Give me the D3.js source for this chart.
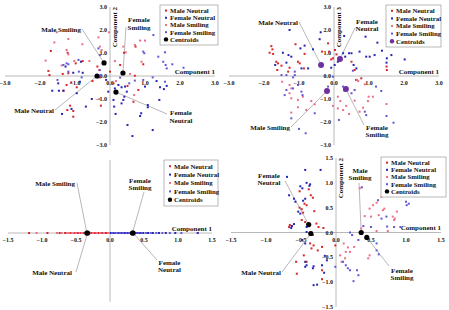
<!DOCTYPE html>
<html>
<head>
<meta charset="utf-8">
<script src="https://cdn.jsdelivr.net/npm/d3@7"></script>
<style>
  body { margin: 0; background: #fff; }
  svg { display: block; }
  text { font-family: "Liberation Serif", "Times New Roman", serif; font-weight: bold; fill: #111; }
</style>
</head>
<body>
<div id="chart"></div>
<script>

const seriesNames = ["Male Neutral", "Female Neutral", "Male Smiling", "Female Smiling"];
const ticksWide = [-3, -2, -1, 0, 1, 2, 3];
const ticksNarrow = [-1.5, -1, -0.5, 0, 0.5, 1, 1.5];

// panel 1 : component 1 vs component 2
const p1MaleNeutral = [[-1.69,1.09],[-1.21,1.01],[-1.76,0.22],[-1.73,0.04],[-0.98,0.55],[-0.78,0.65],[-0.36,0.41],[-1.35,0.09],[-1.19,0.12],[-1.11,-0.28],[-1.24,-0.39],[-1.33,-0.64],[-0.95,-0.49],[-1.05,-1.52],[-1.14,-1.29],[-1.05,-1.77],[-1.22,-1.48],[-0.26,-1.29],[-0.29,-0.06],[-0.5,-0.22],[0.4,1.01],[0.29,0.48],[0.73,1.28],[0.95,0.51],[0.71,0.01],[0.5,-0.43],[0.19,-0.75],[0,0.19],[0.67,-1.12],[0.81,-0.61],[0.1,-0.32]];
const p1FemaleNeutral = [[1.33,-0.22],[1.62,-0.43],[1.54,-0.57],[1.43,-0.49],[1.41,-1.04],[1.08,-1.26],[1.08,-1.36],[0.89,-1.62],[0.86,-1.74],[1.22,-2.35],[0.64,-2.61],[0.5,-2.13],[0.1,-1.04],[0.12,-1.33],[0.16,-1.65],[0.33,-1.19],[0.38,-1.04],[0.41,-0.9],[0.43,-0.46],[0.48,-0.68],[1.0,-0.46],[0.24,-0.39],[0.33,-0.49],[-0.11,-0.17],[-0.83,0.62],[-1.27,0.41],[-1.05,0.14],[-0.78,0.14],[-1.48,-0.32],[-1.65,-0.64],[-1.46,-0.64],[-1.33,-0.64],[-0.86,-0.25],[-0.95,-0.75],[-0.52,-1.0],[-0.69,-1.33],[-1.1,-1.43],[-1.37,-1.65],[-0.05,-0.68],[0.14,-0.54]];
const p1MaleSmiling = [[-1.52,1.9],[-1.59,1.46],[-1.19,1.61],[-1.24,1.13],[-1.19,0.94],[-1.02,0.65],[-0.79,1.38],[-0.59,0.65],[-0.33,1.68],[-0.03,1.9],[-0.29,1.28],[-0.24,1.13],[-0.31,0.26],[0.38,1.28],[0.45,1.03],[0.14,0.65],[0.71,1.35],[0.86,1.54],[1.0,1.54],[0.9,0.62],[0.57,0.09],[0.17,-0.22],[-1.84,0.67],[-0.3,-1.0],[0.69,-0.83],[-1.38,0.46]];
const p1FemaleSmiling = [[1.57,1.03],[1.24,1.78],[0.95,1.06],[0.98,0.99],[1.38,0.84],[1.52,0.62],[1.59,0.48],[1.78,0.51],[1.62,0.33],[2.1,0.36],[1.22,-0.06],[1.57,-0.25],[0.71,-0.2],[0.95,-0.17],[0.29,-0.07],[-0.29,0.26],[-0.26,0.04],[-0.33,1.2],[-0.29,0.91],[-0.9,0.7],[-1.24,0.55],[-1.19,0.51],[-1.19,0.19],[-0.89,0.19],[-1.5,-0.17],[-0.81,-0.06],[0.55,-0.32],[-1.33,0.48]];
const p1Centroids = [["Male Neutral",-0.37,0.0],["Female Neutral",0.17,-0.7],["Male Smiling",-0.17,0.57],["Female Smiling",0.37,0.13]];

// panel 2 : component 1 vs component 3
const p2MaleNeutral = [[-1.79,1.3],[-1.76,1.16],[-1.84,1.01],[-1.74,0.96],[-1.65,0.62],[-1.6,0.55],[-1.62,0.26],[-1.5,0.45],[-1.27,0.36],[-1.31,0.19],[-1.1,1.38],[-1.03,0.62],[-0.98,0.55],[-0.84,0.96],[-0.86,0.33],[-0.17,1.42],[-0.14,1.06],[-0.34,1.06],[-0.08,0.72],[-0.03,0.77],[0.03,1.13],[0.07,0.94],[0.5,0.62],[0.59,0.26],[1.5,0.41],[1.51,0.26],[0.63,-0.17],[0.78,-0.1]];
const p2FemaleNeutral = [[-1.27,2.0],[-0.38,1.9],[-0.41,1.6],[-0.6,1.16],[-0.84,1.32],[-0.96,1.2],[-1.46,1.01],[-1.3,0.91],[-1.22,0.84],[-1.36,0.58],[-1.68,0.48],[-0.93,0.33],[-0.74,0.33],[-0.08,0.36],[0.02,0.48],[0.11,0.62],[0.26,0.99],[0.32,0.84],[0.43,0.99],[0.5,0.99],[0.56,0.48],[0.64,0.33],[0.29,1.74],[0.9,1.71],[1.24,1.45],[0.92,0.84],[1.02,0.84],[0.73,1.06],[1.16,0.91],[1.37,1.1],[1.51,0.77],[1.5,0.58],[1.64,0.91],[2.02,0.72]];
const p2MaleSmiling = [[-1.48,-0.25],[-1.27,-0.39],[-1.22,-0.54],[-1.27,-0.75],[-1.22,-0.97],[-1.03,-1.04],[-1.22,-1.59],[-1.03,-1.36],[-0.79,-1.48],[-0.65,-1.09],[-0.55,-1.23],[-0.89,-0.9],[-0.03,-1.3],[0.11,-0.9],[0.18,-1.09],[0.11,-1.41],[0.26,-1.48],[0.35,-1.3],[0.43,-1.65],[0.59,-1.07],[0.66,-0.17],[0.69,-0.22],[0.88,-0.36],[0.99,-0.9],[0.97,-1.09],[1.11,-0.9],[0.73,-1.55],[0.83,-1.38],[1.5,-1.22]];
const p2FemaleSmiling = [[-1.5,0.04],[-1.36,0.04],[-1.12,0.19],[-1.12,0.04],[-1.17,-0.06],[-1.36,-0.61],[-1.41,-0.83],[-1.17,-0.54],[-1.03,-0.39],[-0.93,-0.68],[-0.9,-0.83],[-1.22,-1.84],[-1.0,-2.3],[-0.81,-2.49],[-0.55,-1.62],[0.54,0.23],[1.2,-0.46],[1.35,-0.65],[1.5,-1.74],[1.7,-2.03],[0.92,-1.7],[0.88,-1.55],[0.14,-1.91],[0.26,-0.46],[0.3,-0.64],[0.59,-0.61],[0.5,-0.75],[-0.03,-0.03],[-0.17,-0.46],[-0.22,-0.61]];
const p2Centroids = [["Male Neutral",-0.37,0.48],["Female Neutral",0.17,0.74],["Male Smiling",-0.2,-0.65],["Female Smiling",0.34,-0.57]];

// panel 3 : component 1 only
const p3MaleNeutral = [-1.19,-0.92,-0.74,-0.66,-0.58,-0.52,-0.47,-0.44,-0.39,-0.36,-0.31,-0.28,-0.22,-0.17,-0.12,-0.06];
const p3FemaleNeutral = [0.01,0.05,0.08,0.13,0.17,0.22,0.26,0.29,0.34,0.4,0.44,0.49,0.56,0.63,0.72,0.82,0.96,1.29];
const p3MaleSmiling = [-1.08,-0.78,-0.71,-0.63,-0.6,-0.54,-0.5,-0.45,-0.41,-0.37,-0.34,-0.3,-0.25,-0.2,-0.14,-0.09,-0.03];
const p3FemaleSmiling = [0.03,0.07,0.11,0.15,0.19,0.24,0.28,0.32,0.37,0.42,0.47,0.53,0.6,0.68,0.77,0.88,1.05];
const p3Centroids = [["Male Neutral",-0.33],["Male Smiling",-0.34],["Female Neutral",0.34],["Female Smiling",0.33]];

// panel 4 : component 1 vs component 2 (rescaled)
const p4MaleNeutral = [[-0.52,0.83],[-0.39,0.87],[-0.36,0.75],[-0.33,0.7],[-0.45,0.58],[-0.42,0.55],[-0.52,0.5],[-0.49,0.47],[-0.47,0.4],[-0.31,0.43],[-0.66,0.15],[-0.67,0.11],[-0.63,0.13],[-0.49,0.25],[-0.44,0.21],[-0.28,0.18],[-0.25,0.11],[-0.18,0.09],[-0.35,0],[-0.33,-0.05],[-0.37,-0.22],[-0.32,-0.26],[-0.35,-0.32],[-0.26,-0.36],[-0.2,-0.29],[-0.46,-0.46],[-0.42,-0.59],[-0.56,-0.83],[-0.57,-0.59],[-0.2,-0.76],[-0.2,-0.94],[-0.01,-0.26]];
const p4FemaleNeutral = [[-0.7,1.12],[-0.44,1.26],[-0.22,1.26],[-0.42,1.0],[-0.38,0.94],[-0.37,0.97],[-0.51,0.93],[-0.48,0.89],[-0.67,0.75],[-0.6,0.68],[-0.58,0.62],[-0.44,0.68],[-0.47,0.64],[-0.54,0.42],[-0.51,0.38],[-0.63,0.13],[-0.64,0.09],[-0.6,0.17],[-0.42,0.11],[-0.42,0.01],[-0.48,-0.15],[-0.44,-0.22],[-0.44,-0.59],[-0.32,-0.68],[-0.33,-0.72],[-0.42,-0.66],[-0.44,-0.69],[-0.2,-0.66],[-0.17,-0.81],[-0.32,-1.06],[-0.27,-1.05],[-0.16,-0.47],[-0.13,-0.56]];
const p4MaleSmiling = [[0.11,-0.22],[0.17,-0.3],[0.14,-0.39],[0.2,-0.39],[0.26,-0.29],[0.13,-0.52],[0.08,-0.59],[0.06,-0.46],[0.34,0.89],[0.48,0.48],[0.53,0.55],[0.58,0.6],[0.41,0.33],[0.5,0.32],[0.61,0.35],[0.65,0.72],[0.69,0.48],[0.67,0.45],[0.81,0.32],[0.84,0.28],[0.87,0.42],[0.83,0.25],[0.74,0.03],[0.58,0.03],[0.36,0.08],[0.48,-0.46],[0.46,-0.52]];
const p4FemaleSmiling = [[-0.01,-0.69],[0.1,-0.59],[0.14,-0.66],[0.17,-0.72],[0.2,-0.76],[0.25,-0.98],[0.3,-0.76],[0.32,-0.86],[0.23,-0.05],[0.2,0],[0.32,-0.15],[0.37,0.91],[0.58,-0.36],[0.61,-0.44],[0.58,-0.22],[0.6,0.65],[0.65,0.28],[0.72,0.32],[0.5,0.11],[0.39,0.13],[1.0,0.62],[1.01,0.55],[1.04,0.58],[0.92,0.11],[0.83,0.11],[0.73,0.12]];
const p4Centroids = [["Female Neutral",-0.39,0.16],["Male Neutral",-0.36,-0.02],["Male Smiling",0.36,0.0],["Female Smiling",0.44,-0.1]];

const colors = {
    "Male Neutral": "#d8262a",
    "Female Neutral": "#2626b4",
    "Male Smiling": "#ec6f86",
    "Female Smiling": "#6258d6"
};
const fmt = d3.format(".1f");

const svg = d3.select("#chart").append("svg").attr("width", 449).attr("height", 310);

const drawPanel = (p) => {
    const g = svg.append("g");
    const x = d3.scaleLinear().domain(p.xDomain).range(p.xRange);
    const y = p.yDomain ? d3.scaleLinear().domain(p.yDomain).range(p.yRange) : null;
    const x0 = x(0);
    const y0 = y ? y(0) : p.axisY;
    const top = Math.min(...p.yRange);

    // axis lines
    g.append("line").attr("x1", p.xRange[0]).attr("x2", p.xRange[1]).attr("y1", y0).attr("y2", y0)
        .attr("stroke", "#a8a8a8").attr("stroke-width", 0.8);
    g.append("line").attr("x1", x0).attr("x2", x0).attr("y1", p.yRange[0]).attr("y2", p.yRange[1])
        .attr("stroke", "#a8a8a8").attr("stroke-width", 0.8);

    g.selectAll(".xt").data(p.ticks).join("text").attr("class", "xt")
        .attr("x", (d) => x(d)).attr("y", y0 + 9)
        .attr("text-anchor", "middle").attr("font-size", 6).text(fmt);
    if (y) {
        g.selectAll(".yt").data(p.ticks).join("text").attr("class", "yt")
            .attr("x", x0 - 3).attr("y", (d) => y(d) + 2)
            .attr("text-anchor", "end").attr("font-size", 6).text(fmt);
    }

    g.append("text").attr("x", p.xRange[1]).attr("y", y0 - 2.5)
        .attr("text-anchor", "end").attr("font-size", 7).text("Component 1");
    if (p.yTitle) {
        g.append("text").attr("transform", `translate(${x0 + 7},${top}) rotate(-90)`)
            .attr("text-anchor", "end").attr("font-size", 7).text(p.yTitle);
    }

    const pos = (d) => y ? [x(d[0]), y(d[1])] : [x(d), y0];
    const centroidPos = {};
    p.centroids.forEach((c) => { centroidPos[c[0]] = y ? [x(c[1]), y(c[2])] : [x(c[1]), y0]; });

    // leader lines
    g.selectAll(".lead").data(p.labels).join("line").attr("class", "lead")
        .attr("x1", (d) => d.from[0]).attr("y1", (d) => d.from[1])
        .attr("x2", (d) => centroidPos[d.name][0]).attr("y2", (d) => centroidPos[d.name][1])
        .attr("stroke", "#9a9a9a").attr("stroke-width", 0.7);

    // points
    seriesNames.forEach((name, i) => {
        g.append("g").selectAll("rect").data(p.series[i]).join("rect")
            .attr("x", (d) => pos(d)[0] - 1).attr("y", (d) => pos(d)[1] - 1)
            .attr("width", 2).attr("height", 2)
            .attr("fill", colors[name]);
    });

    g.selectAll(".cen").data(p.centroids).join("circle").attr("class", "cen")
        .attr("cx", (d) => centroidPos[d[0]][0]).attr("cy", (d) => centroidPos[d[0]][1])
        .attr("r", p.centroidR).attr("fill", p.centroidColor);

    // annotation labels
    p.labels.forEach((l) => {
        const t = g.append("text").attr("font-size", 7).attr("text-anchor", l.anchor);
        l.lines.forEach((line, k) => {
            t.append("tspan").attr("x", l.x).attr("y", l.y + k * 7.5).text(line);
        });
    });

    // legend
    const lg = g.append("g").attr("transform", `translate(${p.legend.x},${p.legend.y})`);
    lg.append("rect").attr("width", p.legend.w).attr("height", p.legend.h)
        .attr("fill", "#fff").attr("stroke", "#8a8a8a").attr("stroke-width", 0.6);
    const items = seriesNames.concat(["Centroids"]);
    const rowH = (p.legend.h - 4) / 5;
    items.forEach((name, i) => {
        const cy = 2 + rowH * (i + 0.5);
        if (name === "Centroids") {
            lg.append("circle").attr("cx", 6).attr("cy", cy).attr("r", 2.2).attr("fill", p.centroidColor);
        } else {
            lg.append("rect").attr("x", 5).attr("y", cy - 1).attr("width", 2).attr("height", 2).attr("fill", colors[name]);
        }
        lg.append("text").attr("x", 10).attr("y", cy + 2.4).attr("font-size", 6.8).text(name);
    });
};

drawPanel({
    xDomain: [-3, 3], xRange: [5, 215], yDomain: [-3, 3], yRange: [145, 7],
    ticks: ticksWide, yTitle: "Component 2",
    series: [p1MaleNeutral, p1FemaleNeutral, p1MaleSmiling, p1FemaleSmiling],
    centroids: p1Centroids, centroidColor: "#000", centroidR: 2.6,
    legend: {x: 160, y: 5, w: 58, h: 40},
    labels: [
        {name: "Male Smiling", lines: ["Male Smiling"], x: 81, y: 31.5, anchor: "end", from: [82, 29]},
        {name: "Female Smiling", lines: ["Female", "Smiling"], x: 139, y: 22, anchor: "middle", from: [126, 27]},
        {name: "Male Neutral", lines: ["Male Neutral"], x: 54, y: 112.5, anchor: "end", from: [55, 110]},
        {name: "Female Neutral", lines: ["Female", "Neutral"], x: 181, y: 115, anchor: "middle", from: [167, 114]}
    ]
});

drawPanel({
    xDomain: [-3, 3], xRange: [229, 439], yDomain: [-3, 3], yRange: [145, 7],
    ticks: ticksWide, yTitle: "Component 3",
    series: [p2MaleNeutral, p2FemaleNeutral, p2MaleSmiling, p2FemaleSmiling],
    centroids: p2Centroids, centroidColor: "#7030a0", centroidR: 3,
    legend: {x: 386, y: 5, w: 55, h: 42},
    labels: [
        {name: "Male Neutral", lines: ["Male Neutral"], x: 298, y: 24.5, anchor: "end", from: [299, 22]},
        {name: "Female Neutral", lines: ["Female", "Neutral"], x: 367, y: 23.5, anchor: "middle", from: [355, 28]},
        {name: "Male Smiling", lines: ["Male Smiling"], x: 290, y: 129.5, anchor: "end", from: [291, 127]},
        {name: "Female Smiling", lines: ["Female", "Smiling"], x: 377, y: 129.5, anchor: "middle", from: [364, 125]}
    ]
});

drawPanel({
    xDomain: [-1.5, 1.5], xRange: [8, 212], yDomain: null, yRange: [160, 302], axisY: 233,
    ticks: ticksNarrow, yTitle: null,
    series: [p3MaleNeutral, p3FemaleNeutral, p3MaleSmiling, p3FemaleSmiling],
    centroids: p3Centroids, centroidColor: "#000", centroidR: 2.6,
    legend: {x: 164, y: 160, w: 54, h: 46},
    labels: [
        {name: "Male Smiling", lines: ["Male Smiling"], x: 75, y: 185.5, anchor: "end", from: [77, 183]},
        {name: "Female Smiling", lines: ["Female", "Smiling"], x: 140, y: 182.5, anchor: "middle", from: [144, 192]},
        {name: "Male Neutral", lines: ["Male Neutral"], x: 72, y: 274.5, anchor: "end", from: [76, 272]},
        {name: "Female Neutral", lines: ["Female", "Neutral"], x: 169.5, y: 264.5, anchor: "middle", from: [157, 260]}
    ]
});

drawPanel({
    xDomain: [-1.5, 1.5], xRange: [231, 441], yDomain: [-1.5, 1.5], yRange: [307, 158],
    ticks: ticksNarrow, yTitle: "Component 2",
    series: [p4MaleNeutral, p4FemaleNeutral, p4MaleSmiling, p4FemaleSmiling],
    centroids: p4Centroids, centroidColor: "#000", centroidR: 2.6,
    legend: {x: 381, y: 157, w: 65, h: 40},
    labels: [
        {name: "Female Neutral", lines: ["Female", "Neutral"], x: 269, y: 177.5, anchor: "middle", from: [285, 181]},
        {name: "Male Neutral", lines: ["Male Neutral"], x: 281, y: 274.5, anchor: "end", from: [282, 272]},
        {name: "Male Smiling", lines: ["Male", "Smiling"], x: 360, y: 172.5, anchor: "middle", from: [359, 183]},
        {name: "Female Smiling", lines: ["Female", "Smiling"], x: 402, y: 272.5, anchor: "middle", from: [389, 266]}
    ]
});
</script>
</body>
</html>
